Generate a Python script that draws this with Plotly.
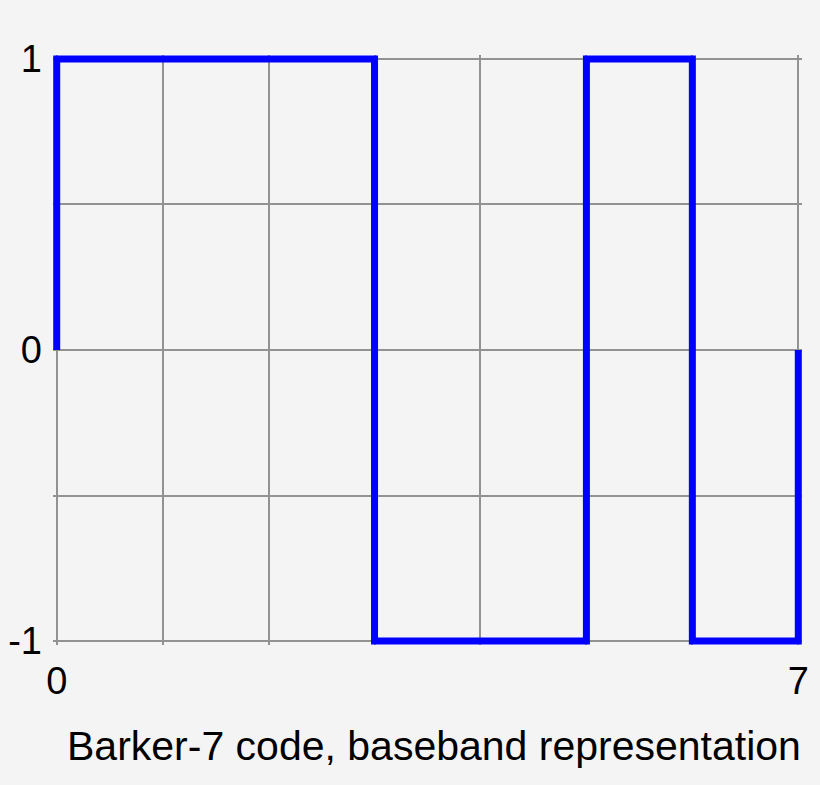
import plotly.graph_objs as go

# Barker-7 chip sequence
chips = [1, 1, 1, -1, -1, 1, -1]
x_ticks = [0, 1, 2, 3, 4, 5, 6, 7]
x_labels = ['0', '', '', '', '', '', '', '7']
y_ticks = [-1, -0.5, 0, 0.5, 1]
y_labels = ['-1', '', '0', '', '1']
caption = 'Barker-7 code, baseband representation'

# step outline: rise from 0 at the start, fall back to 0 at the end
xs = [0] + list(range(len(chips))) + [len(chips), len(chips)]
ys = [0] + chips + [chips[-1], 0]

font = dict(family='Liberation Sans, Arial, sans-serif', size=38, color='black')
bg = '#f4f4f4'

trace = go.Scatter(
    x=xs,
    y=ys,
    mode='lines',
    line=dict(color='#0000ff', width=7, shape='hv'),
    hoverinfo='skip',
    showlegend=False
)

layout = go.Layout(
    width=820,
    height=785,
    paper_bgcolor=bg,
    plot_bgcolor=bg,
    font=font,
    margin=dict(l=53, r=18, t=55, b=140, autoexpand=False),
    xaxis=dict(
        range=[-0.035, 7.035],
        tickvals=x_ticks,
        ticktext=x_labels,
        showgrid=True,
        gridcolor='#929292',
        gridwidth=2,
        zeroline=False,
        showline=False,
        ticks='',
        ticklabelstandoff=10,
        fixedrange=True
    ),
    yaxis=dict(
        range=[-1.0135, 1.0135],
        tickvals=y_ticks,
        ticktext=y_labels,
        showgrid=True,
        gridcolor='#929292',
        gridwidth=2,
        zeroline=False,
        showline=False,
        ticks='',
        ticklabelstandoff=10,
        fixedrange=True
    ),
    annotations=[dict(
        text=caption,
        xref='paper', yref='paper',
        x=0.509, y=-0.172,
        xanchor='center', yanchor='middle',
        showarrow=False,
        font=dict(font, size=41)
    )]
)

fig = go.Figure(data=[trace], layout=layout)
# drop the browser's default body margin so the figure sits at the page corner
fig.write_html('out.html', config=dict(displayModeBar=False),
               post_script="document.body.style.margin='0';document.body.style.background='%s';" % bg)
